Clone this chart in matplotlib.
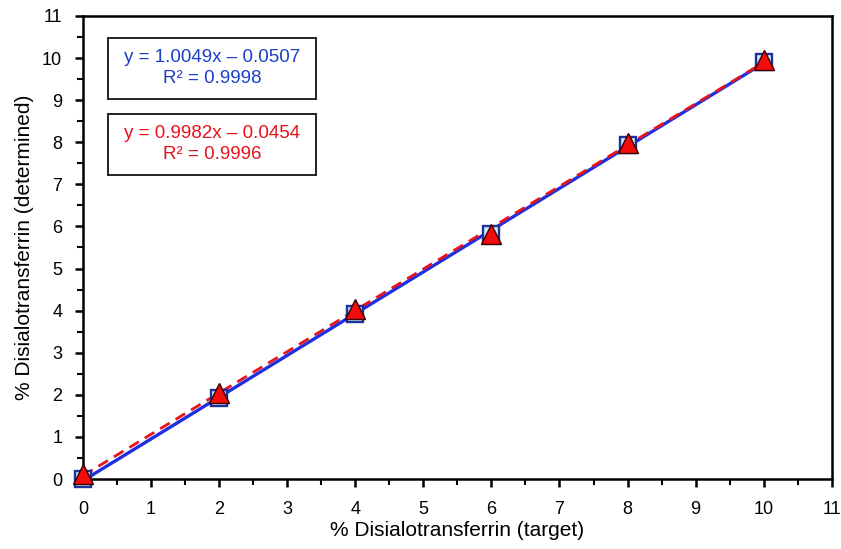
import matplotlib
matplotlib.use("Agg")
import matplotlib.pyplot as plt
import numpy as np
from matplotlib.ticker import MultipleLocator
from matplotlib.patches import Rectangle

plt.rcParams['font.family'] = ['Liberation Sans', 'DejaVu Sans']

target = [0, 2, 4, 6, 8, 10]
det_square = [0.0, 1.93, 3.93, 5.82, 7.93, 9.91]
det_triangle = [0.12, 2.04, 4.04, 5.81, 7.97, 9.95]

eq_blue = "y = 1.0049x – 0.0507\nR² = 0.9998"
eq_red = "y = 0.9982x – 0.0454\nR² = 0.9996"

xlabel = "% Disialotransferrin (target)"
ylabel = "% Disialotransferrin (determined)"

fig = plt.figure(figsize=(8.41, 5.49), dpi=100)
ax = fig.add_axes([0.0987, 0.1275, 0.8903, 0.8435])

xl = np.array([min(target), max(target)], dtype=float)
pb = np.polyfit(target, det_square, 1)
pr = np.polyfit(target, det_triangle, 1)
ax.plot(xl, np.polyval(pb, xl), color='#1f2fe0', lw=2.4, zorder=2)
ax.plot(xl, np.polyval(pr, xl), color='#e8141c', lw=2.0,
        ls=(0, (4, 2.5)), zorder=3)

ax.plot(target, det_square, ls='none', marker='s', markersize=12, clip_on=False,
        markerfacecolor='#c9eef6', markeredgecolor='#22309a', markeredgewidth=1.7, zorder=4)
ax.plot(target, det_triangle, ls='none', marker='^', markersize=14, clip_on=False,
        markerfacecolor='#f20c0c', markeredgecolor='#3a0000', markeredgewidth=1.0, zorder=5)

ax.set_xlim(0, 11)
ax.set_ylim(0, 11)
ax.xaxis.set_major_locator(MultipleLocator(1))
ax.yaxis.set_major_locator(MultipleLocator(1))
ax.xaxis.set_minor_locator(MultipleLocator(0.5))
ax.yaxis.set_minor_locator(MultipleLocator(0.5))
ax.tick_params(which='major', direction='out', length=6, width=1.8, labelsize=13)
ax.tick_params(axis='x', which='major', pad=10)
ax.tick_params(axis='y', which='major', pad=9)
ax.tick_params(which='minor', direction='out', length=4, width=1.5)
for s in ax.spines.values():
    s.set_linewidth(1.8)

ax.set_xlabel(xlabel, fontsize=15, labelpad=2)
ax.set_ylabel(ylabel, fontsize=15, labelpad=6)

box_x0, box_w = 0.0334, 0.2777
for (yb, yt, txt, col) in [(0.8207, 0.9525, eq_blue, '#1a3fc8'),
                           (0.6566, 0.7883, eq_red, '#e8101a')]:
    ax.add_patch(Rectangle((box_x0, yb), box_w, yt - yb, transform=ax.transAxes,
                           facecolor='white', edgecolor='#222222', linewidth=1.4, zorder=6))
    ax.text(box_x0 + box_w / 2, (yb + yt) / 2, txt, transform=ax.transAxes,
            ha='center', va='center', fontsize=13.5, color=col, linespacing=1.3, zorder=7)

fig.savefig("out.png", dpi=100)
